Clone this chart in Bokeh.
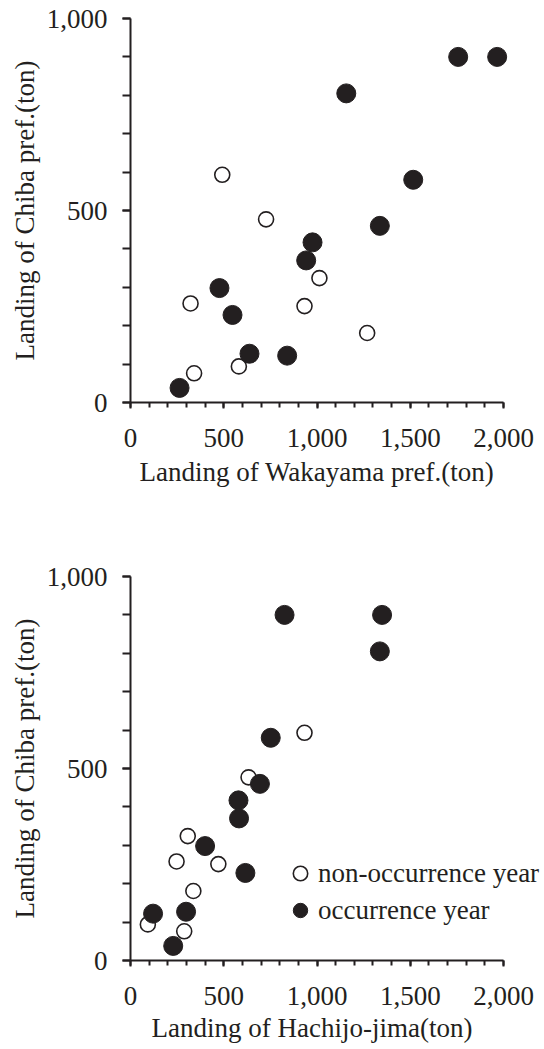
from bokeh.plotting import figure
from bokeh.layouts import column
from bokeh.models import Range1d, NumeralTickFormatter, FixedTicker, Legend, LegendItem, Title
from bokeh.embed import file_html
from bokeh.resources import INLINE

# Landing of Chiba pref. (ton)
chiba_non = [593, 477, 324, 258, 251, 181, 94, 76]
chiba_occ = [900, 900, 805, 580, 460, 417, 370, 298, 228, 127, 122, 38]
# Landing of Wakayama pref. (ton)
wakayama_non = [492, 727, 1013, 322, 933, 1269, 581, 341]
wakayama_occ = [1757, 1966, 1157, 1516, 1337, 976, 942, 477, 547, 638, 840, 263]
# Landing of Hachijo-jima (ton)
hachijo_non = [933, 633, 307, 247, 471, 337, 93, 288]
hachijo_occ = [826, 1349, 1337, 752, 694, 579, 582, 400, 616, 298, 121, 229]

x_ticks = [0, 500, 1000, 1500, 2000]
x_minor = list(range(0, 2001, 100))
y_ticks = [0, 500, 1000]
y_minor = list(range(0, 1001, 100))

labels = ["non-occurrence year", "occurrence year"]
x_titles = ["Landing of Wakayama pref.(ton)", "Landing of Hachijo-jima(ton)"]
y_title = "Landing of Chiba pref.(ton)"

FONT = "Liberation Serif"
INK = "#231f20"
FS = "27px"

AXIS_W = 373          # pixel length of the 0..2000 x axis
FRAME_W = 414         # frame extends to the right edge so the legend is not clipped
X_END = 2000 * FRAME_W / AXIS_W


def make_fig(xs_non, xs_occ, xtitle, xtitle_offset, xtitle_standoff, bottom, with_legend):
    p = figure(frame_width=FRAME_W, frame_height=384,
               min_border_left=130, min_border_right=0,
               min_border_top=18, min_border_bottom=bottom,
               x_range=Range1d(0, X_END), y_range=Range1d(0, 1000),
               output_backend="svg", toolbar_location=None, title=None)
    p.outline_line_color = None
    p.grid.visible = False
    p.background_fill_color = "white"
    p.border_fill_color = "white"

    r_non = p.scatter(xs_non, chiba_non, size=15, fill_color="white",
                      line_color=INK, line_width=1.6)
    r_occ = p.scatter(xs_occ, chiba_occ, size=19, fill_color=INK,
                      line_color=INK, line_width=1)

    for ax in (p.xaxis[0], p.yaxis[0]):
        ax.formatter = NumeralTickFormatter(format="0,0")
        ax.axis_line_width = 2
        ax.axis_line_color = INK
        ax.major_tick_line_color = INK
        ax.minor_tick_line_color = INK
        ax.major_tick_line_width = 2
        ax.minor_tick_line_width = 2
        ax.major_tick_in = 0
        ax.minor_tick_in = 0
        ax.major_label_text_font = FONT
        ax.major_label_text_font_size = FS
        ax.major_label_text_color = INK
        ax.axis_label_text_font = FONT
        ax.axis_label_text_font_size = FS
        ax.axis_label_text_font_style = "normal"
        ax.axis_label_text_color = INK

    p.xaxis.bounds = (0, 2000)
    p.xaxis.ticker = FixedTicker(ticks=x_ticks, minor_ticks=x_minor)
    p.yaxis.ticker = FixedTicker(ticks=y_ticks, minor_ticks=y_minor)
    p.xaxis.major_tick_out = 6
    p.xaxis.minor_tick_out = 5
    p.yaxis.major_tick_out = 8
    p.yaxis.minor_tick_out = 8
    p.xaxis.major_label_standoff = 20
    p.yaxis.major_label_standoff = 15
    p.yaxis.axis_label = y_title
    p.yaxis.axis_label_standoff = 4

    # x-axis title as a panel title, centred under the 0..2000 axis
    p.add_layout(Title(text=xtitle, align="left", offset=xtitle_offset,
                       vertical_align="top", standoff=xtitle_standoff,
                       text_font=FONT, text_font_size=FS,
                       text_font_style="normal", text_color=INK), "below")

    if with_legend:
        leg = Legend(items=[LegendItem(label=labels[0], renderers=[r_non]),
                            LegendItem(label=labels[1], renderers=[r_occ])],
                     location=(152, 32), glyph_width=36, glyph_height=36,
                     spacing=1, padding=0, margin=0, label_standoff=-2,
                     label_text_font=FONT, label_text_font_size=FS,
                     label_text_color=INK,
                     border_line_alpha=0, background_fill_alpha=0)
        p.add_layout(leg)
    return p


p1 = make_fig(wakayama_non, wakayama_occ, x_titles[0], 9, 14, 156, False)
p2 = make_fig(hachijo_non, hachijo_occ, x_titles[1], 21, 10, 88, True)

layout = column(p1, p2, spacing=0)
open("out.html", "w").write(file_html(layout, INLINE))
